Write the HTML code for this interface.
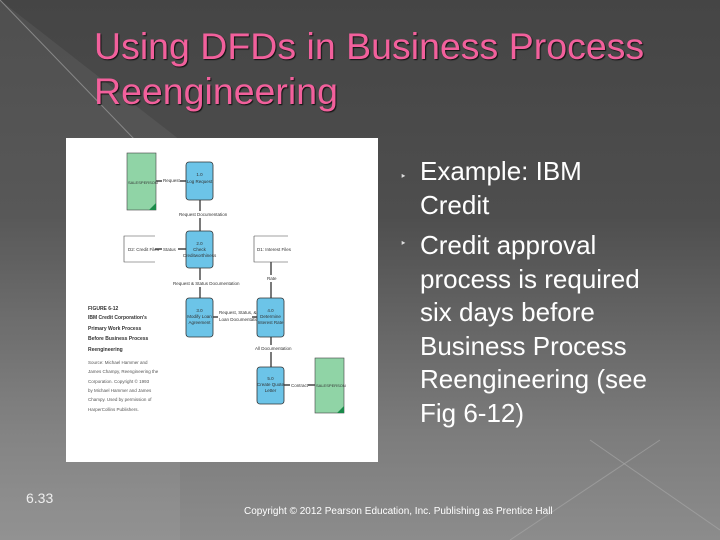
<!DOCTYPE html>
<html><head><style>
body{margin:0;width:720px;height:540px;overflow:hidden;font-family:"Liberation Sans",sans-serif}
#bg{position:absolute;left:0;top:0;width:720px;height:540px;background:linear-gradient(#454545 0%,#4e4e4e 40%,#7c7c7c 80%,#8c8c8c 100%)}
.t{position:absolute;color:#f2609c;font-size:37.5px;line-height:46px;left:94px;text-shadow:1px 1px 1px #111;white-space:nowrap}
.b{position:absolute;left:420px;color:#fff;font-size:26px;line-height:33.6px;white-space:nowrap}
.bu{position:absolute;left:400px;color:#ddd;font-size:11px}
</style></head><body>
<div id="bg"></div>
<svg width="720" height="540" style="position:absolute;left:0;top:0">
<polygon points="0,0 0,540 180,540 180,140" fill="#ffffff" opacity="0.06"/>
<line x1="0" y1="0" x2="135" y2="140" stroke="#888" stroke-width="1"/>
<line x1="510" y1="540" x2="660" y2="440" stroke="#aaa" stroke-width="1" opacity="0.6"/>
<line x1="590" y1="440" x2="720" y2="530" stroke="#aaa" stroke-width="1" opacity="0.6"/>
</svg>
<div class="t" style="top:23px">Using DFDs in Business Process</div>
<div class="t" style="top:68px">Reengineering</div>
<svg width="720" height="540" style="position:absolute;left:0;top:0" font-family="Liberation Sans" font-size="4.5" fill="#333">
<rect x="66" y="138" width="312" height="324" fill="#fff"/>
<g stroke="#222" stroke-width="1.2">
<line x1="156" y1="181" x2="186" y2="181"/>
<line x1="200" y1="200" x2="200" y2="231"/>
<line x1="155" y1="249" x2="186" y2="249"/>
<line x1="200" y1="268" x2="200" y2="298"/>
<line x1="271" y1="262" x2="271" y2="298"/>
<line x1="213" y1="317" x2="257" y2="317"/>
<line x1="271" y1="337" x2="271" y2="367"/>
<line x1="284" y1="385" x2="315" y2="385"/>
</g>
<g fill="#fff"><rect x="162" y="176" width="18" height="8"/><rect x="178" y="211" width="44" height="7"/><rect x="162" y="245" width="16" height="8"/><rect x="172" y="280" width="56" height="7"/><rect x="266" y="275" width="10" height="7"/><rect x="218" y="308" width="34" height="16"/><rect x="254" y="345" width="34" height="7"/><rect x="290" y="381" width="18" height="8"/></g>
<text x="163" y="182">Request</text><text x="179" y="216">Request Documentation</text><text x="163" y="251">Status</text><text x="173" y="285">Request &amp; Status Documentation</text><text x="267" y="280">Rate</text><text x="219" y="314">Request, Status, &amp;</text><text x="219" y="321">Loan Documentation</text><text x="255" y="350">All Documentation</text><text x="291" y="387">Contract</text>
<g fill="#90d4a6" stroke="#444" stroke-width="0.6"><rect x="127" y="153" width="29" height="57"/><rect x="315" y="358" width="29" height="55"/></g>
<polygon points="156,203 156,210 149,210" fill="#1a8a4a"/><polygon points="344,406 344,413 337,413" fill="#1a8a4a"/>
<text x="128" y="184" font-size="4">SALESPERSON</text><text x="316" y="387" font-size="4">SALESPERSON</text>
<g fill="#6cc4e8" stroke="#333" stroke-width="0.8"><rect x="186" y="162" width="27" height="38" rx="3"/><rect x="186" y="231" width="27" height="37" rx="3"/><rect x="186" y="298" width="27" height="39" rx="3"/><rect x="257" y="298" width="27" height="39" rx="3"/><rect x="257" y="367" width="27" height="37" rx="3"/></g>
<g text-anchor="middle"><text x="199.5" y="176">1.0</text><text x="199.5" y="183">Log Request</text>
<text x="199.5" y="245">2.0</text><text x="199.5" y="251">Check</text><text x="199.5" y="257">Creditworthiness</text>
<text x="199.5" y="312">3.0</text><text x="199.5" y="318">Modify Loan</text><text x="199.5" y="324">Agreement</text>
<text x="270.5" y="312">4.0</text><text x="270.5" y="318">Determine</text><text x="270.5" y="324">Interest Rate</text>
<text x="270.5" y="380">5.0</text><text x="270.5" y="386">Create Quote</text><text x="270.5" y="392">Letter</text></g>
<g fill="none" stroke="#444" stroke-width="0.6"><path d="M155,236 H124 V262 H155"/><path d="M254,236 H288 M254,236 V262 H288"/></g>
<text x="128" y="251">D2: Credit Files</text><text x="257" y="251">D1: Interest Files</text>
<g font-weight="bold" font-size="5" fill="#333"><text x="88" y="310">FIGURE 6-12</text><text x="88" y="319">IBM Credit Corporation's</text><text x="88" y="330">Primary Work Process</text><text x="88" y="340">Before Business Process</text><text x="88" y="351">Reengineering</text></g>
<g font-size="4.5" fill="#555"><text x="88" y="364">Source: Michael Hammer and</text><text x="88" y="373">James Champy, Reengineering the</text><text x="88" y="383">Corporation. Copyright © 1993</text><text x="88" y="392">by Michael Hammer and James</text><text x="88" y="401">Champy. Used by permission of</text><text x="88" y="411">HarperCollins Publishers.</text></g>
</svg>
<div class="bu" style="top:170px">&#8227;</div>
<div class="bu" style="top:237px">&#8227;</div>
<div class="b" style="top:155px">Example: IBM<br>Credit</div>
<div class="b" style="top:229px">Credit approval<br>process is required<br>six days before<br>Business Process<br>Reengineering (see<br>Fig 6-12)</div>
<div style="position:absolute;left:26px;top:490px;color:#eee;font-size:14px">6.33</div>
<div style="position:absolute;left:244px;top:506px;color:#fff;font-size:10px">Copyright © 2012 Pearson Education, Inc. Publishing as Prentice Hall</div>
</body></html>
